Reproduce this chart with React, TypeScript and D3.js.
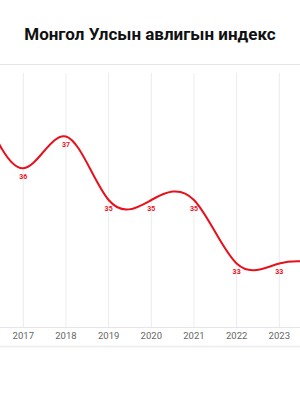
import React from 'react';
import * as d3 from 'd3';

const title = 'Монгол Улсын авлигын индекс';
const years = [2016, 2017, 2018, 2019, 2020, 2021, 2022, 2023, 2024];
const scores = [38, 36, 37, 35, 35, 35, 33, 33, 33];
const tickYears = [2017, 2018, 2019, 2020, 2021, 2022, 2023];

const W = 300, H = 400;
const plotTop = 73, plotBottom = 327;

function App() {
    const x = d3.scaleLinear().domain([2017, 2023]).range([23.3, 279.3]);
    const y = d3.scaleLinear().domain([31, 39]).range([plotBottom, plotTop]);

    const pts = years.map((yr, i) => ({ yr, v: scores[i] }));
    const line = d3.line<{ yr: number; v: number }>()
        .x(d => x(d.yr))
        .y(d => y(d.v))
        .curve(d3.curveNatural);

    // only label the points that fall inside the visible window
    const labelled = pts.filter(p => x(p.yr) > 0 && x(p.yr) < W);

    return (
        <svg width={W} height={H} style={{ position: 'absolute', left: 0, top: 0, background: '#fff' }}
            fontFamily="Roboto, sans-serif">
            <text x={W / 2} y={40} textAnchor="middle" fontSize={17} fontWeight="bold" fill="#111">{title}</text>
            <line x1={0} x2={W} y1={64.5} y2={64.5} stroke="#e6e6e6" />

            {tickYears.map(t => (
                <g key={t}>
                    <line x1={x(t)} x2={x(t)} y1={plotTop} y2={plotBottom} stroke="#ececec" />
                    <text x={x(t)} y={339} textAnchor="middle" fontSize={9.5} fill="#666">{t}</text>
                </g>
            ))}
            <line x1={0} x2={W} y1={plotBottom + 0.5} y2={plotBottom + 0.5} stroke="#e6e6e6" />

            <path d={line(pts) ?? ''} fill="none" stroke="#e8101c" strokeWidth={2} />
            {labelled.map(p => (
                <text key={p.yr} x={x(p.yr)} y={y(p.v) + 10.5} textAnchor="middle" fontSize={7}
                    fontWeight="bold" fill="#e8101c">{p.v}</text>
            ))}

            <rect x={0} y={345.5} width={W} height={2} fill="#f0f0f0" />
        </svg>
    );
}

export default App;
